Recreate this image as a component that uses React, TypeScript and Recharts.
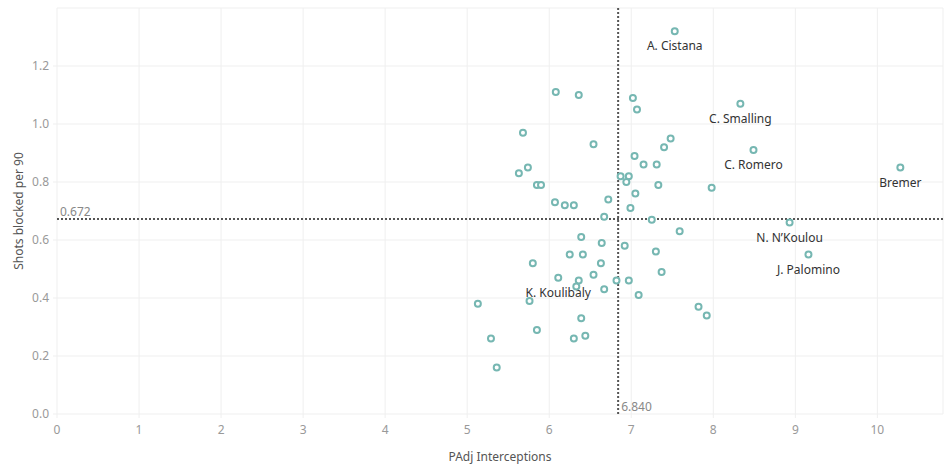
import React from 'react';
import { ScatterChart, Scatter, XAxis, YAxis, CartesianGrid, ReferenceLine } from 'recharts';

const xValues = [
  7.53, 6.08, 6.36, 7.02, 7.07, 8.33, 5.68, 6.54, 7.48, 7.40,
  8.49, 7.04, 7.15, 7.31, 5.63, 5.74, 6.87, 6.97, 5.85, 5.90,
  6.94, 7.33, 7.98, 7.05, 6.07, 6.19, 6.30, 6.72, 6.99, 6.67,
  7.25, 8.93, 7.59, 6.39, 6.64, 6.92, 7.30, 6.25, 6.41, 5.80,
  6.63, 7.37, 6.11, 6.54, 6.36, 6.33, 6.82, 6.97, 6.67, 7.09,
  5.13, 5.76, 7.82, 7.92, 6.39, 5.85, 5.29, 6.30, 6.44, 5.36,
  10.28, 9.16,
];
const yValues = [
  1.32, 1.11, 1.10, 1.09, 1.05, 1.07, 0.97, 0.93, 0.95, 0.92,
  0.91, 0.89, 0.86, 0.86, 0.83, 0.85, 0.82, 0.82, 0.79, 0.79,
  0.80, 0.79, 0.78, 0.76, 0.73, 0.72, 0.72, 0.74, 0.71, 0.68,
  0.67, 0.66, 0.63, 0.61, 0.59, 0.58, 0.56, 0.55, 0.55, 0.52,
  0.52, 0.49, 0.47, 0.48, 0.46, 0.44, 0.46, 0.46, 0.43, 0.41,
  0.38, 0.39, 0.37, 0.34, 0.33, 0.29, 0.26, 0.26, 0.27, 0.16,
  0.85, 0.55,
];
const names = [
  'A. Cistana', '', '', '', '', 'C. Smalling', '', '', '', '',
  'C. Romero', '', '', '', '', '', '', '', '', '',
  '', '', '', '', '', '', '', '', '', '',
  '', 'N. N\u2019Koulou', '', '', '', '', '', '', '', '',
  '', '', 'K. Koulibaly', '', '', '', '', '', '', '',
  '', '', '', '', '', '', '', '', '', '',
  'Bremer', 'J. Palomino',
];
const xTicks = [0, 1, 2, 3, 4, 5, 6, 7, 8, 9, 10];
const yTicks = [0, 0.2, 0.4, 0.6, 0.8, 1.0, 1.2];
const meanX = 6.84;
const meanY = 0.672;

const data = xValues.map((x, i) => ({ x, y: yValues[i], name: names[i] }));

const FONT = '"Noto Sans", Lato, sans-serif';

const PointShape = (props: any) => {
  const { cx, cy, payload } = props;
  return (
    <g>
      <circle cx={cx} cy={cy} r={3} fill="#ffffff" stroke="#76b7b2" strokeWidth={2} />
      {payload && payload.name ? (
        <text x={cx} y={cy + 15} dy="0.35em" textAnchor="middle" fontSize={12} fontFamily={FONT} fill="#333333">
          {payload.name}
        </text>
      ) : null}
    </g>
  );
};

export default function App() {
  return (
    <div style={{ position: 'absolute', left: 0, top: 0, background: '#fff' }}>
      <ScatterChart width={945} height={471} margin={{ top: 8, right: 2, bottom: 0, left: 0 }}>
        <CartesianGrid stroke="#efefef" strokeWidth={1} />
        <XAxis
          type="number"
          dataKey="x"
          domain={[0, 10.8]}
          ticks={xTicks}
          allowDataOverflow
          height={57}
          axisLine={false}
          tickLine={{ stroke: '#efefef' }}
          tickSize={4}
          tickMargin={7}
          tick={{ fill: '#999999', fontSize: 12, fontFamily: FONT }}
          label={{ value: 'PAdj Interceptions', position: 'insideBottom', offset: 10, fill: '#555555', fontSize: 12, fontFamily: FONT }}
        />
        <YAxis
          type="number"
          dataKey="y"
          domain={[0, 1.4]}
          ticks={yTicks}
          allowDataOverflow
          width={57}
          axisLine={false}
          tickLine={{ stroke: '#efefef' }}
          tickSize={4}
          tickMargin={4}
          tickFormatter={(v: number) => v.toFixed(1)}
          tick={{ fill: '#999999', fontSize: 12, fontFamily: FONT }}
          label={{ value: 'Shots blocked per 90', angle: -90, position: 'center', dx: -10, fill: '#555555', fontSize: 12, fontFamily: FONT }}
        />
        <ReferenceLine
          x={meanX}
          stroke="#555555"
          strokeWidth={2}
          strokeDasharray="2 2"
          label={{ value: meanX.toFixed(3), position: 'insideBottomLeft', offset: 3, fill: '#888888', fontSize: 12, fontFamily: FONT }}
        />
        <ReferenceLine
          y={meanY}
          stroke="#555555"
          strokeWidth={2}
          strokeDasharray="2 2"
          label={{ value: meanY.toFixed(3), position: 'insideBottomLeft', offset: 3, fill: '#888888', fontSize: 12, fontFamily: FONT }}
        />
        <Scatter data={data} isAnimationActive={false} shape={PointShape} />
      </ScatterChart>
    </div>
  );
}
